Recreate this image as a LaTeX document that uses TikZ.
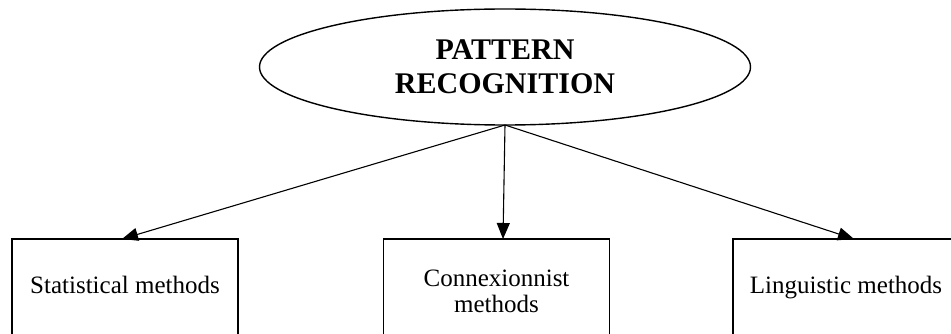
\documentclass[tikz,border=0pt]{standalone}
\usepackage{fontspec}
\setmainfont{Liberation Serif}
\usetikzlibrary{arrows.meta,shapes.geometric}

\begin{document}
\begin{tikzpicture}[x=1pt,y=-1pt,
  title/.style={draw,ellipse,line width=1.4pt,inner sep=0pt,outer sep=0pt,
    minimum width=491pt,minimum height=116pt,align=center,
    font=\bfseries\fontsize{30}{34}\selectfont},
  method/.style={draw,rectangle,line width=1.4pt,inner sep=0pt,outer sep=0pt,
    minimum width=226pt,minimum height=100pt,align=center,
    font=\fontsize{25}{26}\selectfont},
  oneline/.style={method,text height=16pt,text depth=8pt},
  link/.style={line width=1.1pt,-{Triangle[length=16pt,width=13pt]}}]
\clip (0,0) rectangle (951,334);

\node[title] (pr) at (505,67) {PATTERN\\RECOGNITION};

\node[oneline] (stat) at (125,289) {Statistical methods};
\node[method,minimum height=105pt] (conn) at (496.5,291.5) {Connexionnist\\methods};
\node[oneline] (ling) at (846,289) {Linguistic methods};

\draw[link] (pr.south) -- ([xshift=-3pt]stat.north);
\draw[link] (pr.south) -- ([xshift=6.5pt]conn.north);
\draw[link] (pr.south) -- ([xshift=8pt]ling.north);

\end{tikzpicture}
\end{document}
